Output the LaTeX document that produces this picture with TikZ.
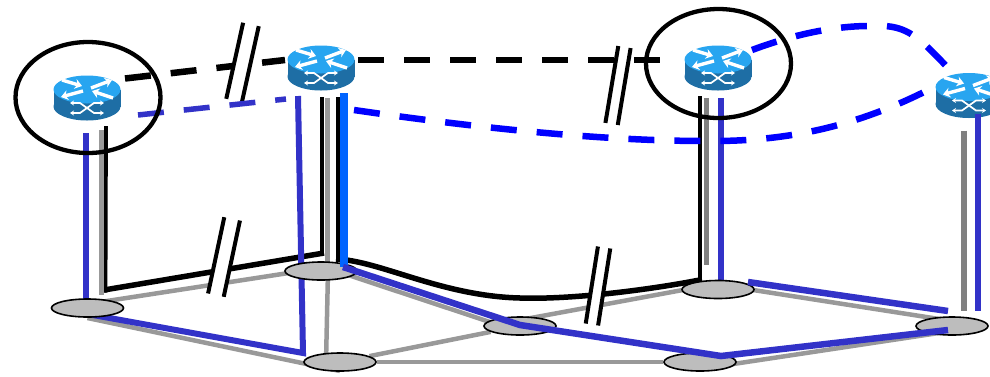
\documentclass[tikz,border=0pt]{standalone}
\usepackage{xcolor}
\usetikzlibrary{shapes.geometric, arrows.meta, calc, backgrounds}
\definecolor{routertop}{RGB}{40,165,240}
\definecolor{routerside}{RGB}{30,110,165}
\definecolor{linkblue}{RGB}{50,50,200}
\definecolor{pureblue}{RGB}{0,0,255}
\definecolor{brightblue}{RGB}{0,100,255}
\tikzset{
  routerbox/.style = {rectangle, inner sep=0pt, minimum width=67pt, minimum height=45pt},
  switchnode/.style = {ellipse, draw, line width=1.6pt, fill=black!26, inner sep=0pt,
                   minimum width=72pt, minimum height=18pt},
  area/.style    = {ellipse, draw, line width=4.3pt, inner sep=0pt},
  greylink/.style = {draw=black!40, line width=4.5pt},
  riser/.style   = {draw=black!50, line width=5.5pt},
  riserlight/.style = {draw=black!40, line width=5.5pt},
  blacklink/.style = {draw=black, line width=5.5pt},
  blackriser/.style = {draw=black, line width=3.8pt},
  bluelink/.style = {draw=linkblue, line width=6.5pt},
  dashlink/.style = {line width=6.5pt, dash pattern=on 26pt off 20pt},
  iconarrow/.style = {white, line width=3.4pt, -{Stealth[length=7pt,width=10pt]}},
  iconcross/.style = {white, line width=1.7pt, {Stealth[length=4pt,width=5pt]}-{Stealth[length=4pt,width=5pt]}},
  routericon/.pic = {
    \fill[routerside] (0,8.5) ellipse [x radius=33.5, y radius=14];
    \fill[routerside] (-33.5,-8.5) rectangle (33.5,8.5);
    \fill[routertop] (0,-8.5) ellipse [x radius=33.5, y radius=14];
    \draw[iconarrow] (-25,-18) -- (-5,-12);
    \draw[iconarrow] (4,-10) -- (25,-18);
    \draw[iconarrow] (-4,-7) -- (-26,-1);
    \draw[iconarrow] (26,0) -- (5,-7);
    \draw[iconcross] (-17,5) -- (-7,5) -- (7,15) -- (17,15);
    \draw[iconcross] (-17,15) -- (-7,15) -- (7,5) -- (17,5);
  },
  breakmark/.pic = {
    \fill[white] (-#1/2,-39) rectangle (#1/2,39);
    \draw[line width=4pt] (-#1/2,-39) -- (-#1/2,39);
    \draw[line width=4pt] (#1/2,-39) -- (#1/2,39);
  },
}
\begin{document}
\begin{tikzpicture}[x=1pt, y=-1pt]
  \useasboundingbox (0,0) rectangle (990,376);

  % routers and switches
  \foreach \name/\pos in {r1/{87,98}, r2/{321,68}, r3/{718,68}, r4/{969,95.5}} {
    \node[routerbox] (\name) at (\pos) {};
    \pic at (\name) {routericon};
  }
  \node[switchnode] (s1) at (87.5,308) {};
  \node[switchnode] (s2) at (321,271) {};
  \node[switchnode] (s3) at (340,362) {};
  \node[switchnode] (s4) at (520,326) {};
  \node[switchnode] (s5) at (718,289.5) {};
  \node[switchnode] (s6) at (952,326) {};
  \node[switchnode] (s7) at (700,362) {};

  \begin{scope}[on background layer]
    % physical links
    \draw[greylink] ($(s1)+(0,-4)$) -- ($(s2)+(0,-3)$);
    \draw[greylink] ($(s1)+(0,10)$) -- ($(s3)+(0,9)$);
    \draw[greylink] ($(s2)+(7,0)$) -- ($(s3)+(-14,0)$);
    \draw[greylink] ($(s2)+(0,-5)$) -- ($(s4)+(0,6)$);
    \draw[greylink] (s3) -- (s4);
    \draw[greylink] (s3) -- (s7);
    \draw[greylink] ($(s4)+(0,-6)$) -- ($(s5)+(0,-6)$);
    \draw[greylink] ($(s5)+(0,-5)$) -- ($(s6)+(0,-5)$);
    \draw[greylink] ($(s7)+(0,7)$) -- ($(s6)+(0,5)$);

    % black paths between the routers
    \draw[blacklink] ($(s1)+(16.5,-18)$) -- ($(s2)+(3,-18)$);
    \draw[blackriser] ($(r1)+(19,28)$) -- ($(s1)+(18,-15.5)$);
    \draw[blackriser] ($(r2)+(1,29)$) -- ($(s2)+(1,-16)$);
    \draw[blackriser] ($(r2)+(17,29)$) -- ($(s2)+(17,-10)$);
    \draw[blacklink] ($(s2)+(15,-12)$)
      .. controls ($(s2)+(60,-10)$) and ($(s2)+(120,25)$) .. ($(s4)+(0,-28)$)
      .. controls ($(s4)+(60,-26)$) and ($(s5)+(-50,-3)$) .. ($(s5)+(-16,-10)$);
    \draw[blackriser] ($(r3)+(-18,28)$) -- ($(s5)+(-18,-8)$);
    \pic[rotate=-12] at (224,257) {breakmark=16};
    \pic[rotate=-9] at (598,286) {breakmark=12.5};

    % risers
    \draw[riserlight] ($(r1)+(14.5,32)$) -- ($(s1)+(14,-13)$);
    \draw[riserlight] ($(r2)+(6.5,30)$) -- ($(s2)+(6.5,-6)$);
    \draw[riser] ($(r3)+(-11.5,30)$) -- ($(s5)+(-11.5,-24.5)$);
    \draw[riser] ($(r4)+(-5,35)$) -- ($(s6)+(12,-15)$);
    \draw[draw=linkblue, line width=6pt] ($(r1)+(-1,35)$) -- ($(s1)+(-1.5,-8)$);
    \draw[bluelink, line width=6pt] ($(r2)+(-23,28)$) -- ($(s3)+(-37,-9)$) -- ($(s1)+(0,6)$);
    \draw[bluelink] ($(r3)+(3,30)$) -- ($(s5)+(3,-9)$);
  \end{scope}

  % logical links
  \draw[dashlink, black] ($(r1)+(38,-19.5)$) -- ($(r2)+(-36,-8)$);
  \draw[dashlink, black] ($(r2)+(37,-8)$) -- ($(r3)+(-53,-8)$);
  \pic[rotate=-12.5] at (242.5,62.5) {breakmark=16};
  \pic[rotate=-9.5] at (618,85.5) {breakmark=12.5};
  \draw[dashlink, linkblue, line width=5.5pt] ($(r1)+(51,17)$) -- ($(r2)+(-35,31)$);
  \draw[dashlink, pureblue] ($(r2)+(33,42)$)
    .. controls (470,127) and (600,141) .. (705,141)
    .. controls (790,142) and (860,125) .. ($(r4)+(-37,-7.5)$);
  \draw[dashlink, pureblue] ($(r3)+(34,-18)$)
    .. controls (800,32) and (840,26) .. (869,26)
    .. controls (905,24) and (915,33) .. ($(r4)+(-20,-26.5)$);

  % upper part of the blue ring and the last risers
  \draw[draw=brightblue, line width=8pt] ($(r2)+(22.5,25)$) -- ($(s2)+(22.5,-4)$);
  \draw[bluelink] ($(s2)+(22,-4)$) -- ($(s4)+(0,-1)$) -- ($(s7)+(21,-6)$) -- ($(s6)+(-4,4)$);
  \draw[bluelink] ($(s5)+(30,-7.5)$) -- ($(s6)+(-4,-15)$);
  \draw[bluelink, line width=5.5pt] ($(r4)+(9,18.5)$) -- ($(s6)+(26,-15)$);

  % domains
  \node[area, minimum width=145pt, minimum height=111pt] (d1) at (88,97.5) {};
  \node[area, minimum width=145pt, minimum height=109pt] (d2) at (718.5,63.5) {};
\end{tikzpicture}
\end{document}
